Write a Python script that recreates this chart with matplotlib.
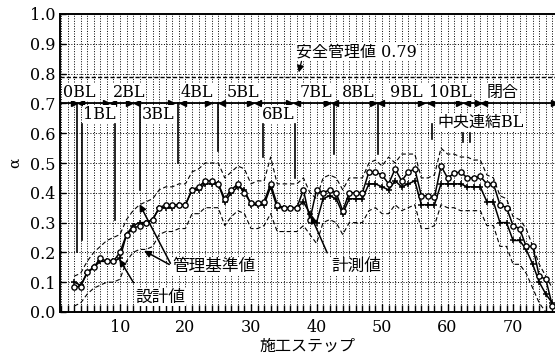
import numpy as np
import matplotlib
matplotlib.use("Agg")
import matplotlib.pyplot as plt

plt.rcParams['font.family'] = ['DejaVu Serif', 'Noto Sans CJK JP']

# data
steps = list(range(3, 77))
measured = [0.085, 0.085, 0.135, 0.15, 0.18, 0.17, 0.17, 0.20, 0.26, 0.28,
            0.29, 0.30, 0.31, 0.35, 0.36, 0.36, 0.36, 0.36, 0.41, 0.42,
            0.44, 0.44, 0.43, 0.38, 0.41, 0.43, 0.40, 0.365, 0.365, 0.37,
            0.43, 0.36, 0.35, 0.35, 0.35, 0.41, 0.31, 0.41, 0.40, 0.41,
            0.40, 0.34, 0.40, 0.40, 0.40, 0.47, 0.47, 0.46, 0.43, 0.48,
            0.44, 0.47, 0.48, 0.39, 0.39, 0.385, 0.49, 0.45, 0.465, 0.47,
            0.45, 0.45, 0.455, 0.43, 0.43, 0.36, 0.35, 0.29, 0.28, 0.22,
            0.22, 0.12, 0.11, 0.02]
design = [0.10, 0.09, 0.13, 0.15, 0.17, 0.17, 0.17, 0.18, 0.26, 0.29,
          0.30, 0.30, 0.31, 0.35, 0.35, 0.35, 0.36, 0.36, 0.41, 0.41,
          0.43, 0.43, 0.43, 0.37, 0.40, 0.42, 0.41, 0.36, 0.36, 0.36,
          0.42, 0.35, 0.35, 0.35, 0.35, 0.37, 0.33, 0.30, 0.38, 0.39,
          0.38, 0.33, 0.38, 0.38, 0.38, 0.43, 0.43, 0.42, 0.41, 0.44,
          0.42, 0.43, 0.44, 0.36, 0.36, 0.36, 0.43, 0.43, 0.43, 0.43,
          0.42, 0.42, 0.42, 0.37, 0.37, 0.30, 0.30, 0.24, 0.24, 0.21,
          0.16, 0.10, 0.06, 0.03]
upper = [0.12, 0.13, 0.17, 0.20, 0.22, 0.24, 0.25, 0.26, 0.31, 0.34,
         0.36, 0.37, 0.38, 0.41, 0.42, 0.42, 0.43, 0.43, 0.47, 0.48,
         0.50, 0.50, 0.50, 0.45, 0.47, 0.49, 0.48, 0.43, 0.44, 0.44,
         0.52, 0.43, 0.43, 0.43, 0.43, 0.45, 0.40, 0.38, 0.45, 0.46,
         0.45, 0.41, 0.45, 0.45, 0.45, 0.50, 0.51, 0.49, 0.52, 0.50,
         0.53, 0.53, 0.53, 0.45, 0.45, 0.46, 0.55, 0.53, 0.53, 0.52,
         0.52, 0.51, 0.51, 0.46, 0.45, 0.39, 0.38, 0.32, 0.31, 0.28,
         0.22, 0.16, 0.12, 0.08]
lower = [0.02, 0.03, 0.06, 0.08, 0.09, 0.10, 0.10, 0.11, 0.17, 0.20,
         0.21, 0.21, 0.22, 0.26, 0.27, 0.27, 0.28, 0.28, 0.33, 0.33,
         0.35, 0.35, 0.35, 0.29, 0.32, 0.34, 0.33, 0.28, 0.28, 0.29,
         0.33, 0.27, 0.27, 0.27, 0.27, 0.29, 0.26, 0.23, 0.30, 0.31,
         0.30, 0.26, 0.30, 0.30, 0.30, 0.34, 0.35, 0.33, 0.33, 0.36,
         0.34, 0.35, 0.36, 0.28, 0.28, 0.29, 0.36, 0.35, 0.35, 0.34,
         0.34, 0.34, 0.34, 0.29, 0.29, 0.22, 0.22, 0.16, 0.16, 0.13,
         0.08, 0.03, 0.00, 0.00]

safety_value = 0.79
bl_level = 0.7

# block labels: (text, step, above/below)
bl_labels = [("0BL", 1.3, "above"), ("1BL", 4.4, "below"), ("2BL", 8.9, "above"),
             ("3BL", 13.3, "below"), ("4BL", 19.2, "above"), ("5BL", 26.3, "above"),
             ("6BL", 31.7, "below"), ("7BL", 37.4, "above"), ("8BL", 43.8, "above"),
             ("9BL", 51.2, "above"), ("10BL", 57.1, "above"), ("閉合", 66.0, "above")]
# boundary lines: (step, top, bottom)
bl_drops = [(3.4, 0.70, 0.20), (4.2, 0.63, 0.24), (9.2, 0.63, 0.31), (13.0, 0.70, 0.41),
            (18.9, 0.70, 0.50), (25.0, 0.70, 0.54), (31.8, 0.63, 0.52), (36.7, 0.63, 0.45),
            (42.6, 0.70, 0.53), (49.4, 0.70, 0.53), (57.6, 0.63, 0.58),
            (62.4, 0.60, 0.57), (63.4, 0.60, 0.57)]
arrow_right = [3.0, 7.8, 11.4, 17.8, 23.4, 29.8, 35.8, 41.6, 48.6, 56.0, 61.8, 64.6, 76.2]
arrow_left = [4.0, 9.0, 12.6, 19.6, 25.6, 31.0, 37.0, 42.8, 49.8, 57.4, 63.0, 65.6]

fig = plt.figure(figsize=(5.55, 3.61), dpi=100)
ax = fig.add_axes([60 / 555, 49 / 361, 495 / 555, 298 / 361])

ax.set_xlim(0.85, 76.4)
ax.set_ylim(0, 1.0)

# grid
for s in range(1, 77):
    ax.axvline(s, color='k', lw=0.7, ls=(0, (1, 1.6)), zorder=0)
for v in np.arange(0.1, 1.0, 0.1):
    ax.axhline(v, color='k', lw=0.7, ls=(0, (1, 1.8)), zorder=0)

# safety value
ax.axhline(safety_value, color='k', lw=1.0, ls=(0, (3, 1.5)), zorder=1)

# series
ax.plot(steps, upper, color='k', lw=0.8, ls=(0, (4, 2.5)), zorder=2)
ax.plot(steps, lower, color='k', lw=0.8, ls=(0, (4, 2.5)), zorder=2)
ax.plot(steps, design, color='k', lw=1.1, marker='+', ms=5, mew=1.1, zorder=3)
ax.plot(steps, measured, color='k', lw=1.1, marker='o', ms=3.8, mfc='white',
        mec='k', mew=1.0, zorder=4)

# block bar at 0.7
ax.plot([0.9, 76.3], [bl_level, bl_level], color='k', lw=1.3, zorder=5)
ax.plot(arrow_right, [bl_level] * len(arrow_right), ls='none', marker='>',
        ms=4, color='k', zorder=6)
ax.plot(arrow_left, [bl_level] * len(arrow_left), ls='none', marker='<',
        ms=4, color='k', zorder=6)
for s, top, bot in bl_drops:
    ax.plot([s, s], [top, bot], color='k', lw=1.2, zorder=5)
for txt, s, pos in bl_labels:
    if pos == "above":
        ax.text(s, 0.708, txt, fontsize=11.5, ha='left', va='bottom', zorder=7,
                bbox=dict(fc='white', ec='none', pad=0.3))
    else:
        ax.text(s, 0.692, txt, fontsize=11.5, ha='left', va='top', zorder=7,
                bbox=dict(fc='white', ec='none', pad=0.3))
ax.text(58.4, 0.636, "中央連結BL", fontsize=11.5, ha='left', va='center', zorder=7,
        bbox=dict(fc='white', ec='none', pad=0.3))

# annotations
ax.text(36.8, 0.873, "安全管理値 0.79", fontsize=11.5, ha='left', va='center',
        zorder=7, bbox=dict(fc='white', ec='none', pad=0.5))
ax.annotate("", xy=(37.2, 0.795), xytext=(37.8, 0.85),
            arrowprops=dict(arrowstyle='-|>', color='k', lw=0.9), zorder=7)

ax.text(18.0, 0.152, "管理基準値", fontsize=12, ha='left', va='center', zorder=7,
        bbox=dict(fc='white', ec='none', pad=0.5))
ax.annotate("", xy=(12.8, 0.37), xytext=(17.9, 0.155),
            arrowprops=dict(arrowstyle='-|>', color='k', lw=1.1), zorder=7)
ax.annotate("", xy=(13.3, 0.21), xytext=(17.9, 0.155),
            arrowprops=dict(arrowstyle='-|>', color='k', lw=1.1), zorder=7)

ax.text(12.4, 0.05, "設計値", fontsize=12, ha='left', va='center', zorder=7,
        bbox=dict(fc='white', ec='none', pad=0.5))
ax.annotate("", xy=(9.7, 0.185), xytext=(12.3, 0.09),
            arrowprops=dict(arrowstyle='-|>', color='k', lw=1.1), zorder=7)

ax.text(42.2, 0.152, "計測値", fontsize=12, ha='left', va='center', zorder=7,
        bbox=dict(fc='white', ec='none', pad=0.5))
ax.annotate("", xy=(39.0, 0.33), xytext=(41.8, 0.19),
            arrowprops=dict(arrowstyle='-|>', color='k', lw=1.1), zorder=7)

# axes styling
ax.set_xticks(range(10, 80, 10))
ax.set_xticks(range(1, 77), minor=True)
ax.set_yticks(np.arange(0, 1.01, 0.1))
ax.set_yticklabels([f"{v:.1f}" for v in np.arange(0, 1.01, 0.1)])
ax.tick_params(axis='both', which='both', direction='in', labelsize=11.5)
ax.tick_params(axis='x', which='major', length=6, width=1.0, pad=5)
ax.tick_params(axis='x', which='minor', length=5, width=1.0)
ax.tick_params(axis='y', which='major', length=4, width=1.0, pad=3)
for sp in ['top', 'left', 'bottom']:
    ax.spines[sp].set_linewidth(1.4)
ax.spines['right'].set_visible(False)

ax.set_ylabel("α", fontsize=11, labelpad=6)
ax.set_xlabel("施工ステップ", fontsize=11.5, labelpad=1)

fig.savefig("out.png", dpi=100)
